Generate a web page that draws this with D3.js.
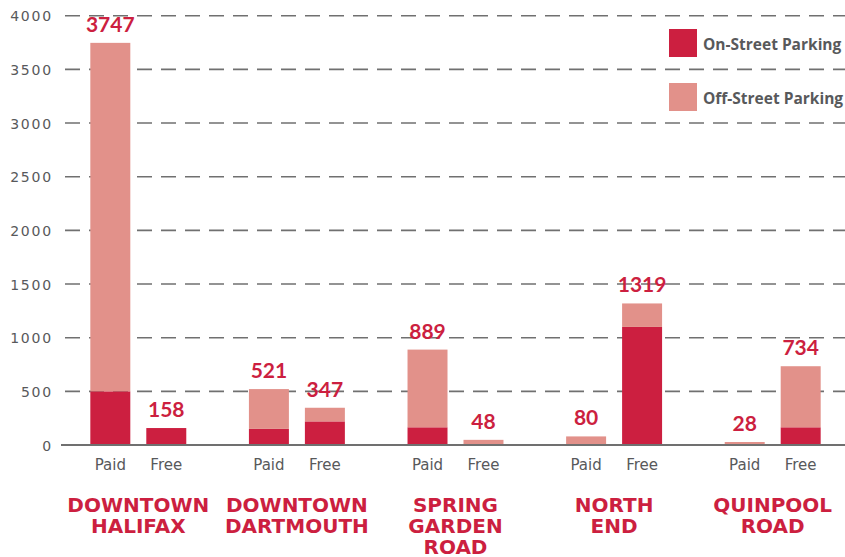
<!DOCTYPE html>
<html>
<head>
<meta charset="utf-8">
<script src="https://cdn.jsdelivr.net/npm/d3@7"></script>
<style>
  html, body { margin: 0; padding: 0; background: #fff; }
  svg { display: block; }
</style>
</head>
<body>
<svg id="chart" width="845" height="557"></svg>
<script>
// Parking spaces by district, split into paid and free, stacked by on-/off-street
const districts = ["Downtown Halifax", "Downtown Dartmouth", "Spring Garden Road", "North End", "Quinpool Road"];
const districtLines = [["DOWNTOWN", "HALIFAX"], ["DOWNTOWN", "DARTMOUTH"], ["SPRING", "GARDEN", "ROAD"], ["NORTH", "END"], ["QUINPOOL", "ROAD"]];
const payTypes = ["Paid", "Free"];
// Total spaces per district: [Paid, Free]
const totalSpaces = [[3747, 158], [521, 347], [889, 48], [80, 1319], [28, 734]];
// On-street portion per district: [Paid, Free]
const onStreetSpaces = [[500, 158], [150, 220], [165, 0], [0, 1100], [0, 165]];
const seriesNames = ["On-Street Parking", "Off-Street Parking"];
const yTicks = [0, 500, 1000, 1500, 2000, 2500, 3000, 3500, 4000];

const colors = { "On-Street Parking": "#CC1F40", "Off-Street Parking": "#E2918A" };
const red = "#CC1F40";
const gray = "#58595B";

const svg = d3.select("#chart");

const y = d3.scaleLinear().domain([0, 4000]).range([445, 15.7]);
const x0 = d3.scaleBand().domain(districts).range([59, 852]).paddingInner(0.395).paddingOuter(0.1975);
const x1 = d3.scaleBand().domain(payTypes).range([0, x0.bandwidth()]).paddingInner(16 / 56).paddingOuter(0);

// Flatten into one record per bar
const bars = [];
districts.forEach((d, i) => {
  payTypes.forEach((p, j) => {
    const total = totalSpaces[i][j];
    const on = onStreetSpaces[i][j];
    bars.push({ district: d, pay: p, total: total, "On-Street Parking": on, "Off-Street Parking": total - on });
  });
});

const stack = d3.stack().keys(seriesNames);
const stacked = stack(bars);

// Gridlines
const grid = svg.append("g").attr("class", "grid");
grid.selectAll("line")
  .data(yTicks.filter(t => t > 0))
  .join("line")
  .attr("x1", 65).attr("x2", 845)
  .attr("y1", d => y(d)).attr("y2", d => y(d))
  .attr("stroke", "#707070")
  .attr("stroke-width", 1.6)
  .attr("stroke-dasharray", "15,9");

// Y axis labels
const yAxis = d3.axisLeft(y).tickValues(yTicks).tickFormat(d3.format("d")).tickSize(0).tickPadding(0);
const yg = svg.append("g").attr("transform", "translate(53,0)").call(yAxis);
yg.select(".domain").remove();
yg.selectAll("text")
  .attr("fill", gray)
  .attr("font-family", "'DejaVu Sans', sans-serif")
  .attr("font-size", 14)
  .attr("letter-spacing", 1.8)
  .attr("dy", "0.36em");

// Stacked bars
svg.append("g").selectAll("g")
  .data(stacked)
  .join("g")
  .attr("fill", s => colors[s.key])
  .selectAll("rect")
  .data(s => s)
  .join("rect")
  .attr("x", d => x0(d.data.district) + x1(d.data.pay))
  .attr("width", x1.bandwidth())
  .attr("y", d => y(d[1]))
  .attr("height", d => y(d[0]) - y(d[1]));

// Baseline
svg.append("line")
  .attr("x1", 61).attr("x2", 845)
  .attr("y1", y(0)).attr("y2", y(0))
  .attr("stroke", "#707070").attr("stroke-width", 2);

// Total labels
svg.append("g").selectAll("text")
  .data(bars)
  .join("text")
  .attr("x", d => x0(d.district) + x1(d.pay) + x1.bandwidth() / 2)
  .attr("y", d => y(d.total) - 11)
  .attr("text-anchor", "middle")
  .attr("fill", red)
  .attr("font-family", "Lato, sans-serif")
  .attr("font-weight", 700)
  .attr("font-size", 21)
  .text(d => d.total);

// Paid / Free labels
svg.append("g").selectAll("text")
  .data(bars)
  .join("text")
  .attr("x", d => x0(d.district) + x1(d.pay) + x1.bandwidth() / 2)
  .attr("y", 470)
  .attr("text-anchor", "middle")
  .attr("fill", gray)
  .attr("font-family", "'DejaVu Sans', sans-serif")
  .attr("font-size", 15)
  .text(d => d.pay);

// District labels, one text element per line
const lineRecords = [];
districts.forEach((d, i) => {
  districtLines[i].forEach((t, k) => lineRecords.push({ district: d, text: t, line: k }));
});
svg.append("g").selectAll("text")
  .data(lineRecords)
  .join("text")
  .attr("x", d => x0(d.district) + x0.bandwidth() / 2)
  .attr("y", d => 512 + d.line * 21)
  .attr("text-anchor", "middle")
  .attr("fill", red)
  .attr("font-family", "'DejaVu Sans', sans-serif")
  .attr("font-weight", 700)
  .attr("font-size", 20)
  .text(d => d.text);

// Legend
const legend = svg.append("g").selectAll("g")
  .data(seriesNames)
  .join("g")
  .attr("transform", (d, i) => `translate(669,${29 + i * 54})`);
legend.append("rect")
  .attr("width", 28).attr("height", 28)
  .attr("fill", d => colors[d]);
legend.append("text")
  .attr("x", 34).attr("y", 21)
  .attr("fill", gray)
  .attr("font-family", "'Open Sans', sans-serif")
  .attr("font-weight", 700)
  .attr("font-size", 15.5)
  .text(d => d);
</script>
</body>
</html>
